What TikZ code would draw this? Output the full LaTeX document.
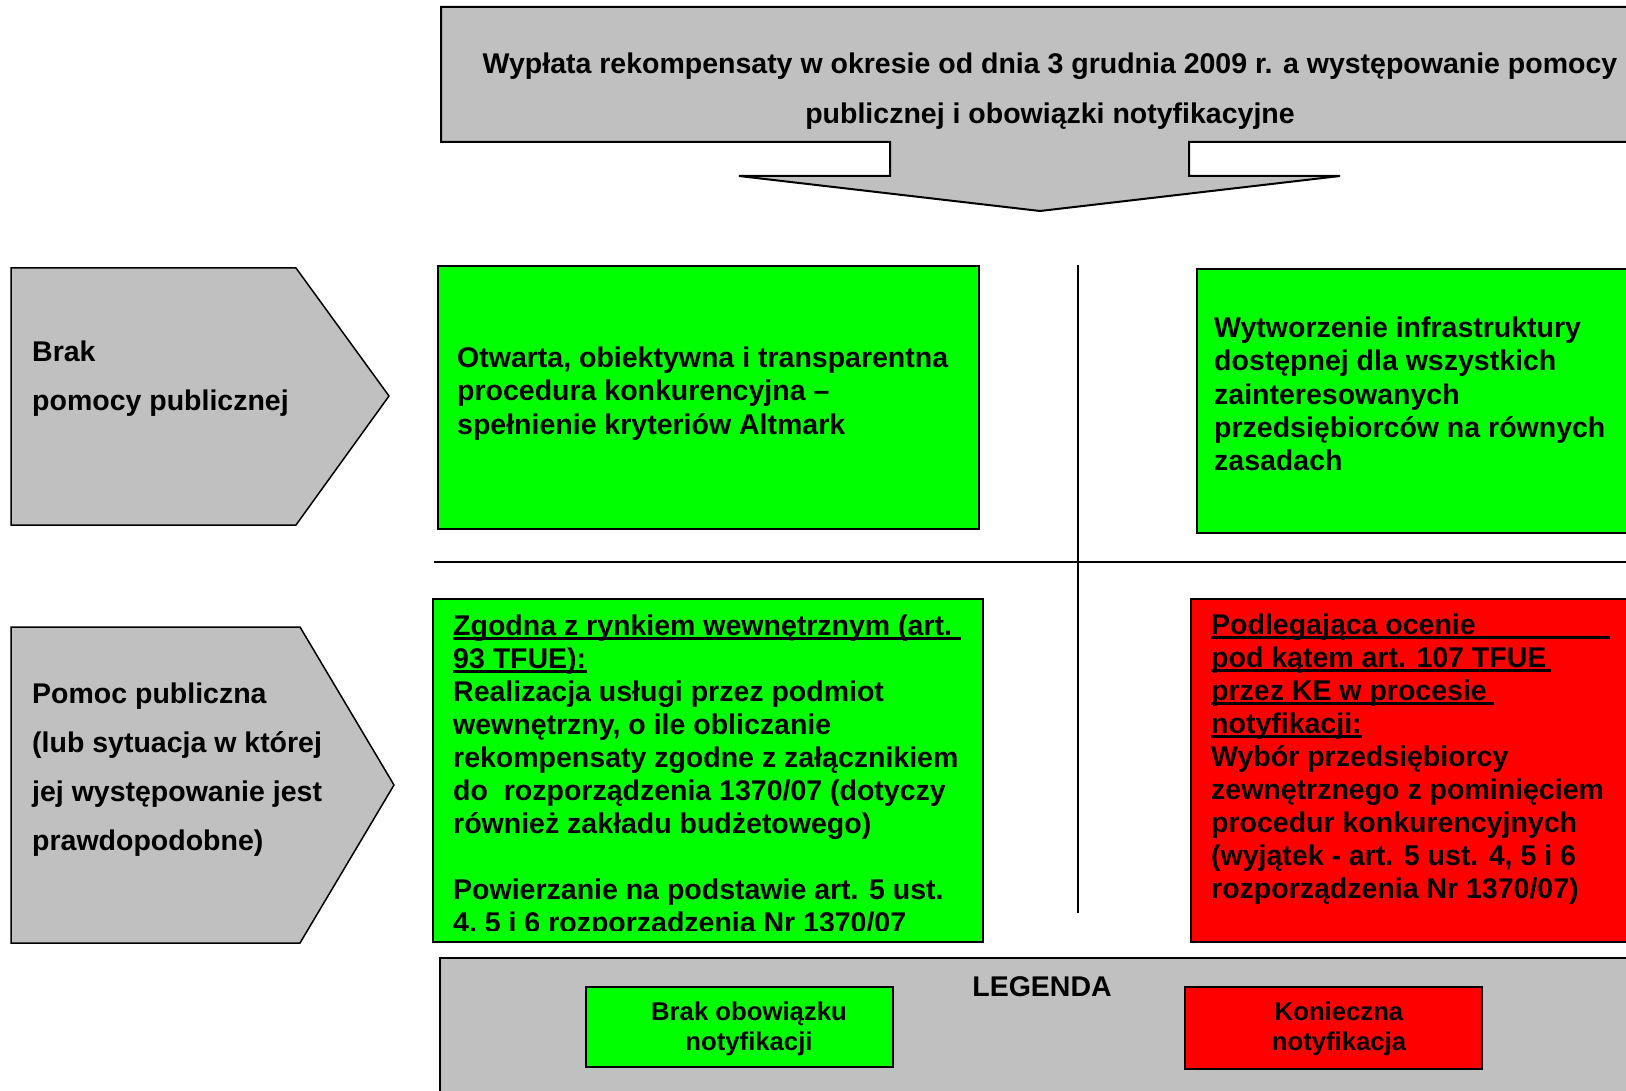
\documentclass[tikz,border=0pt]{standalone}
\usepackage{fontspec}
\setmainfont{Liberation Sans}
\definecolor{boxgray}{RGB}{192,192,192}
\definecolor{boxgreen}{RGB}{0,255,0}
\definecolor{boxred}{RGB}{255,0,0}
% underline of a fixed length under a text line
\newcommand\ulw[2]{\rlap{\rule[-4.5pt]{#1}{2.6pt}}#2}
\begin{document}
\begin{tikzpicture}[x=1pt,y=-1pt,
  outline/.style={draw=black, line width=2pt, line join=miter},
  panel/.style={outline, inner sep=0pt, anchor=north west},
  txt/.style={inner sep=0pt, anchor=base west, font=\fontsize{28.5}{33}\selectfont\bfseries},
  ctxt/.style={inner sep=0pt, anchor=base, font=\fontsize{28.5}{33}\selectfont\bfseries},
  legtxt/.style={inner sep=0pt, anchor=base, font=\fontsize{25.7}{30}\selectfont\bfseries},
  divider/.style={draw=black, line width=1.5pt}]
\useasboundingbox (0,0) rectangle (1626,1091);
\clip (0,0) rectangle (1626,1091);

% heading banner with a downward arrow
\draw[outline, fill=boxgray] (441,7) -- (1700,7) -- (1700,142) -- (1189,142)
  -- (1189,176) -- (1340,176) -- (1040,211) -- (739,176) -- (890,176)
  -- (890,142) -- (441,142) -- cycle;
\node[ctxt] (title1) at (1050,74) {Wypłata rekompensaty w okresie od dnia 3 grudnia 2009 r. a występowanie pomocy};
\node[ctxt] (title2) at (1050,124) {publicznej i obowiązki notyfikacyjne};

% row labels
\draw[outline, line width=1.5pt, fill=boxgray] (11,268) -- (296,268) -- (389,396) -- (296,525) -- (11,525) -- cycle;
\node[txt] (row1a) at (32,362) {Brak};
\node[txt] (row1b) at (32,410) {pomocy publicznej};

\draw[outline, line width=1.5pt, fill=boxgray] (11,627) -- (300,627) -- (394,785) -- (300,943) -- (11,943) -- cycle;
\foreach \t [count=\i] in {{Pomoc publiczna},{(lub sytuacja w której},{jej występowanie jest},{prawdopodobne)}}
  \node[txt] (row2-\i) at (32,{703+49*(\i-1)}) {\t};

% dividing lines
\draw[divider] (434,562) -- (1626,562);
\draw[divider] (1078,265) -- (1078,913);

% upper row
\node[panel, fill=boxgreen, minimum width=541, minimum height=263] (free1) at (437,265) {};
\foreach \t [count=\i] in {{Otwarta, obiektywna i transparentna},{procedura konkurencyjna –},{spełnienie kryteriów Altmark}}
  \node[txt] (free1-\i) at (457,{368+33*(\i-1)}) {\t};

\node[panel, fill=boxgreen, minimum width=520, minimum height=264] (free2) at (1196,268) {};
\foreach \t [count=\i] in {{Wytworzenie infrastruktury},{dostępnej dla wszystkich},{zainteresowanych},{przedsiębiorców na równych},{zasadach}}
  \node[txt] (free2-\i) at (1214,{338+33*(\i-1)}) {\t};

% lower row
\node[panel, fill=boxgreen, minimum width=550, minimum height=343] (comp) at (432,598) {};
\begin{scope}
  \clip (432,598) rectangle (982,930);
  \foreach \t [count=\i] in {{\ulw{508pt}{Zgodna z rynkiem wewnętrznym (art.}},{\ulw{134pt}{93 TFUE):}},
      {Realizacja usługi przez podmiot},{wewnętrzny, o ile obliczanie},
      {rekompensaty zgodne z załącznikiem},{do\ \ rozporządzenia 1370/07 (dotyczy},
      {również zakładu budżetowego)}}
    \node[txt] (comp-\i) at (453,{635+33*(\i-1)}) {\t};
  \foreach \t [count=\i] in {{Powierzanie na podstawie art. 5 ust.},{4, 5 i 6 rozporządzenia Nr 1370/07}}
    \node[txt] (comp-b\i) at (453,{899+33*(\i-1)}) {\t};
\end{scope}

\node[panel, fill=boxred, minimum width=520, minimum height=343] (notif) at (1190,598) {};
\foreach \t [count=\i] in {{\ulw{399pt}{Podlegająca ocenie}},{\ulw{340pt}{pod kątem art. 107 TFUE}},
    {\ulw{283pt}{przez KE w procesie}},{\ulw{151pt}{notyfikacji:}},
    {Wybór przedsiębiorcy},{zewnętrznego z pominięciem},{procedur konkurencyjnych},
    {(wyjątek - art. 5 ust. 4, 5 i 6},{rozporządzenia Nr 1370/07)}}
  \node[txt] (notif-\i) at (1211,{634+33*(\i-1)}) {\t};

% legend
\node[panel, fill=boxgray, minimum width=1300, minimum height=200] (legend) at (439,957) {};
\node[ctxt] (legtitle) at (1042,996) {LEGENDA};
\node[panel, fill=boxgreen, minimum width=307, minimum height=80] (leggreen) at (585,986) {};
\node[legtxt] (leggreen1) at (749,1020) {Brak obowiązku};
\node[legtxt] (leggreen2) at (749,1050) {notyfikacji};
\node[panel, fill=boxred, minimum width=297, minimum height=82] (legred) at (1184,986) {};
\node[legtxt] (legred1) at (1339,1020) {Konieczna};
\node[legtxt] (legred2) at (1339,1050) {notyfikacja};
\end{tikzpicture}
\end{document}
